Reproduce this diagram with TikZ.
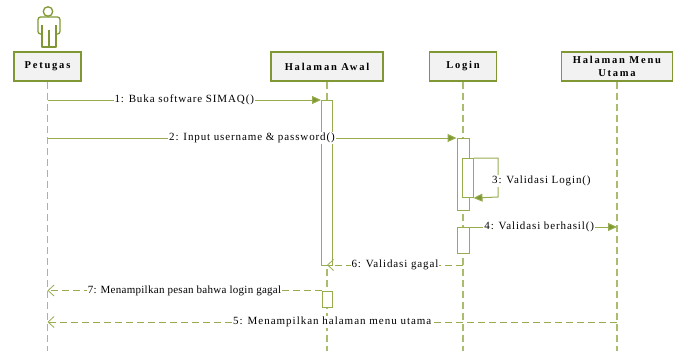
\documentclass[tikz,border=0pt]{standalone}
\usepackage{fontspec}
\setmainfont{Liberation Serif}
\newfontfamily\lblfont[LetterSpace=8]{Liberation Serif}
\newfontfamily\hdrfont[LetterSpace=17]{Liberation Serif}
\newfontfamily\smallfont[LetterSpace=2.5]{Liberation Serif}
\newfontfamily\widefont[LetterSpace=9]{Liberation Serif}
\usetikzlibrary{arrows.meta}
\definecolor{boxgreen}{RGB}{128,152,52}
\definecolor{linegreen}{RGB}{150,172,78}
\definecolor{lifegreen}{RGB}{170,188,110}
\definecolor{boxfill}{RGB}{242,242,242}
\tikzset{
  hdr/.style={draw=boxgreen, fill=boxfill, line width=1.6pt, minimum height=29pt, inner sep=0pt, font=\hdrfont\bfseries\fontsize{10.5}{12}\selectfont, align=center},
  lifeline/.style={draw=lifegreen, line width=1.3pt, dash pattern=on 7pt off 4pt},
  actbar/.style={draw=linegreen, fill=white, line width=1pt},
  msg/.style={draw=linegreen, line width=1pt, -{Triangle[length=9pt,width=8pt,fill=boxgreen]}},
  ret/.style={draw=linegreen, line width=1pt, dash pattern=on 7pt off 4pt, -{Straight Barb[length=6pt,width=11pt,line width=0.8pt]}},
  lbl/.style={fill=white, inner sep=1pt, font=\lblfont\fontsize{11}{13}\selectfont},
  slbl/.style={fill=white, inner sep=1pt, font=\smallfont\fontsize{11}{12}\selectfont},
  wlbl/.style={fill=white, inner sep=1pt, font=\widefont\fontsize{11}{12}\selectfont},
}
\begin{document}
\begin{tikzpicture}[x=1pt,y=-1pt]
\useasboundingbox (0,0) rectangle (679,351);
% actor
\node[draw=boxgreen, line width=1.3pt, circle, minimum size=9.5pt, inner sep=0pt] (head) at (48,11.5) {};
\draw[boxgreen, line width=1.3pt, rounded corners=2.5pt, line join=round]
  (42,34) -- (38,34) -- (38,17) -- (60,17) -- (60,34) -- (56,34);
\draw[boxgreen, line width=1.3pt, line join=round]
  (42,25) -- (42,47) -- (56,47) -- (56,25);
\draw[boxgreen, line width=1.3pt] (49,30) -- (49,47);
% headers
\node[hdr, minimum width=67pt] (pet) at (47.5,66.5) {Petugas};
\node[hdr, minimum width=112pt] (awal) at (327,66.5) {Halaman Awal};
\node[hdr, minimum width=67pt] (login) at (463,66.5) {Login};
\node[hdr, minimum width=111pt] (menu) at (617,66.5) {Halaman Menu\\[1pt]Utama};
% lifeline ends
\coordinate (petE) at (47.5,351);
\coordinate (awalE) at (327,351);
\coordinate (loginE) at (463,351);
\coordinate (menuE) at (617,351);
\draw[lifeline] (pet.south) -- (petE);
\draw[lifeline] (awal.south) -- (awalE);
\draw[lifeline] (login.south) -- (loginE);
\draw[lifeline] (menu.south) -- (menuE);
% activation bars
\node[actbar, minimum width=11pt, minimum height=165pt, inner sep=0pt, anchor=north] (ab1) at (327,100) {};
\node[actbar, minimum width=10pt, minimum height=16pt, inner sep=0pt, anchor=north] (ab2) at (327,290.5) {};
\node[actbar, minimum width=12pt, minimum height=72pt, inner sep=0pt, anchor=north] (lb1) at (463,138) {};
\node[actbar, minimum width=11pt, minimum height=39pt, inner sep=0pt, anchor=north] (lb3) at (467.5,158) {};
\node[actbar, minimum width=12pt, minimum height=26pt, inner sep=0pt, anchor=north] (lb2) at (463,227) {};
% message points
\coordinate (m1s) at (47.5,100);
\coordinate (m2s) at (47.5,138);
\coordinate (m3a) at (498,158);
\coordinate (m3b) at (498,197);
\coordinate (m4e) at (617,227);
\coordinate (m6s) at (463,265);
\coordinate (m6e) at (327,265);
\coordinate (m7e) at (47.5,290.5);
\coordinate (m5s) at (617,322);
\coordinate (m5e) at (47.5,322);
% messages
\draw[msg] (m1s) -- node[lbl] (t1) {1: Buka software SIMAQ()} (ab1.north west);
\draw[msg] (m2s) -- node[lbl] (t2) {2: Input username \& password()} (lb1.north west);
\draw[msg] (lb3.north east) -- (m3a) -- (m3b) -- (lb3.south east);
\node[lbl, anchor=west] (t3) at (491,180.5) {3: Validasi Login()};
\draw[msg] (lb2.north east) -- node[lbl, xshift=-4pt] (t4) {4: Validasi berhasil()} (m4e);
\draw[ret] (m6s) -- node[lbl] (t6) {6: Validasi gagal} (m6e);
\draw[ret] (ab2.north west) -- node[slbl] (t7) {7: Menampilkan pesan bahwa login gagal} (m7e);
\draw[ret] (m5s) -- node[wlbl] (t5) {5: Menampilkan halaman menu utama} (m5e);
\end{tikzpicture}
\end{document}
